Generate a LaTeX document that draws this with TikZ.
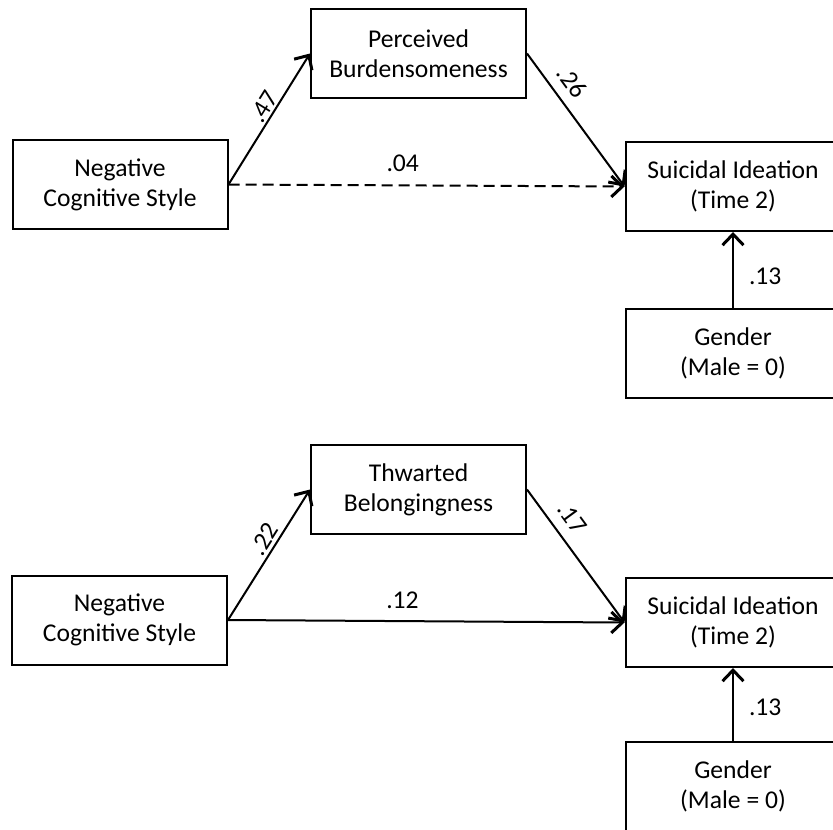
\documentclass[tikz,border=0pt]{standalone}
\usepackage{fontspec}
\setmainfont{Carlito}
\usetikzlibrary{arrows.meta}
\begin{document}
\begin{tikzpicture}[x=0.5pt,y=-0.5pt,
  box/.style={draw, line width=1pt, minimum width=107.5pt, minimum height=44.5pt,
    align=center, inner sep=0pt, font=\fontsize{12.8}{15}\selectfont},
  arr/.style={line width=1pt, -{Straight Barb[length=5.5pt,width=10.5pt,line width=1.5pt]}},
  dashline/.style={dash pattern=on 5.5pt off 3pt},
  lab/.style={inner sep=0.5pt, font=\fontsize{12.8}{15}\selectfont}]
\useasboundingbox (0,0) rectangle (833,829);
\clip (0,0) rectangle (833,829);
% top panel
\node[box] (ncsA) at (120,184.5) {Negative\\Cognitive Style};
\node[box] (pb) at (418.5,53.5) {Perceived\\Burdensomeness};
\node[box] (siA) at (733,186.5) {Suicidal Ideation\\(Time 2)};
\node[box] (gA) at (733,353.5) {Gender\\(Male = 0)};
\draw[arr] (ncsA.east) -- node[lab, sloped, above=0.5pt, pos=0.55] {.47} (pb.west);
\draw[arr] (pb.east) -- node[lab, sloped, above=4.4pt, pos=0.3] {.26} (siA.west);
\draw[arr, dashline] (ncsA.east) -- node[lab, above=6pt, pos=0.44] {.04} (siA.west);
\draw[arr] (gA.north) -- node[lab, right=7pt, pos=0.42] {.13} (siA.south);
% bottom panel
\node[box] (ncsB) at (119.5,620) {Negative\\Cognitive Style};
\node[box] (tb) at (418.5,489.5) {Thwarted\\Belongingness};
\node[box] (siB) at (733,622.5) {Suicidal Ideation\\(Time 2)};
\node[box] (gB) at (733,786.5) {Gender\\(Male = 0)};
\draw[arr] (ncsB.east) -- node[lab, sloped, above=1pt, pos=0.57] {.22} (tb.west);
\draw[arr] (tb.east) -- node[lab, sloped, above=4.7pt, pos=0.3] {.17} (siB.west);
\draw[arr] (ncsB.east) -- node[lab, above=5.2pt, pos=0.44] {.12} (siB.west);
\draw[arr] (gB.north) -- node[lab, right=7pt, pos=0.46] {.13} (siB.south);
\end{tikzpicture}
\end{document}
